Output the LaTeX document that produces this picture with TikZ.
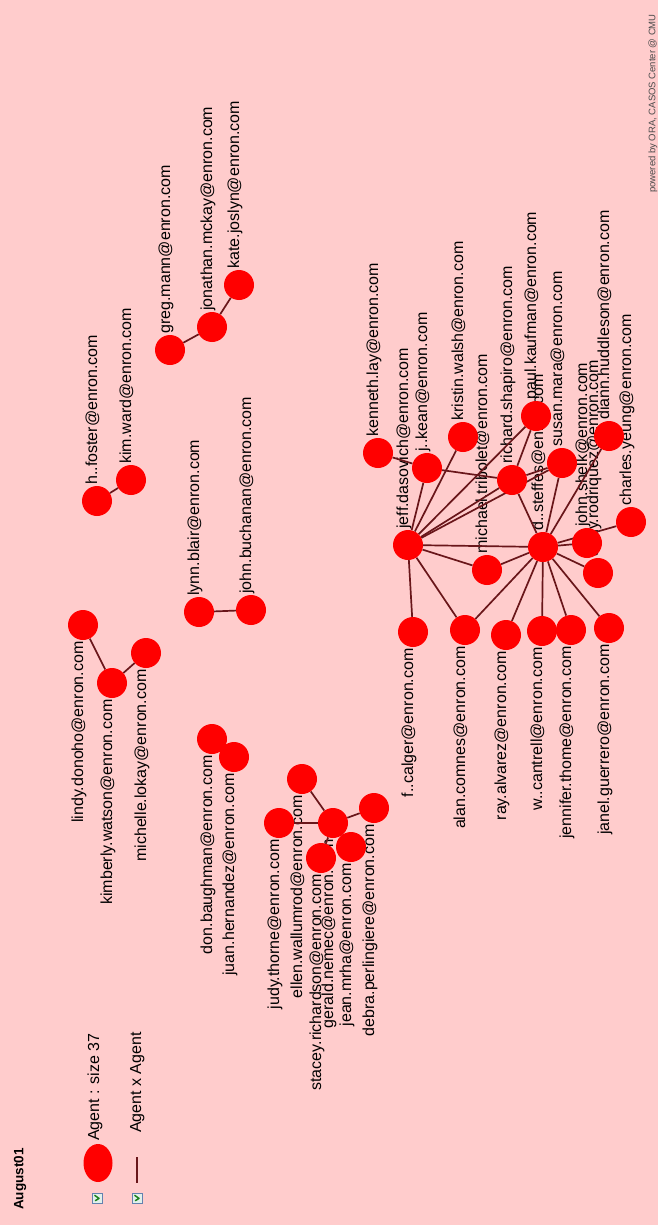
\documentclass[tikz,border=0pt]{standalone}
\usepackage{fontspec}
\setmainfont{Liberation Sans}
\usetikzlibrary{shapes.geometric}
\definecolor{bgpink}{RGB}{255,204,204}
\definecolor{edgecol}{RGB}{105,22,26}
\definecolor{nodered}{RGB}{255,0,0}
\definecolor{cbborder}{RGB}{100,130,175}
\definecolor{cbfill}{RGB}{225,240,235}
\definecolor{cbcheck}{RGB}{30,130,30}
\pgfdeclarelayer{bg}\pgfdeclarelayer{lab}\pgfdeclarelayer{edge}
\pgfsetlayers{bg,lab,edge,main}
\tikzset{
 agent/.style={circle, fill=nodered, draw=none, minimum size=30pt, inner sep=0pt},
 lab/.style={rotate=90, inner sep=0pt, font=\fontsize{16}{18}\selectfont, text height=11.5pt, text depth=3.4pt, text=black},
 labA/.style={lab, anchor=west},
 labB/.style={lab, anchor=east},
 link/.style={draw=edgecol, line width=1.7pt},
 cbox/.style={draw=cbborder, fill=cbfill, minimum size=10pt, inner sep=0pt, line width=0.9pt},
 cmark/.style={draw=cbcheck, line width=1.5pt, line cap=round, line join=round},
}
\newcommand\labup[2]{\node[labA] (#1-l) at ([xshift=-4pt,yshift=1pt]#1.north) {#2};}
\newcommand\labdn[2]{\node[labB] (#1-l) at ([xshift=-4pt,yshift=-1pt]#1.south) {#2};}
\begin{document}
\begin{tikzpicture}[x=1pt,y=-1pt]
\useasboundingbox (0,0) rectangle (658,1225);
\begin{pgfonlayer}{bg}
\fill[bgpink] (0,0) rectangle (658,1225);
\end{pgfonlayer}
% ---- central cluster
\node[agent] (kenneth) at (378,453) {};
\node[agent] (jeff) at (408,545) {};
\node[agent] (jkean) at (427,468) {};
\node[agent] (kristin) at (463,437) {};
\node[agent] (michael) at (487,570) {};
\node[agent] (richard) at (512,480) {};
\node[agent] (steffes) at (543,547) {};
\node[agent] (paul) at (536,416) {};
\node[agent] (susan) at (562,463) {};
\node[agent] (shelk) at (587,543) {};
\node[agent] (andy) at (598,573) {};
\node[agent] (diann) at (609,436) {};
\node[agent] (charles) at (631,522) {};
\node[agent] (calger) at (413,632) {};
\node[agent] (comnes) at (465,630) {};
\node[agent] (alvarez) at (506,635) {};
\node[agent] (cantrell) at (542,631) {};
\node[agent] (thome) at (571,630) {};
\node[agent] (guerrero) at (609,628) {};
% ---- small clusters
\node[agent] (hfoster) at (97,501) {};
\node[agent] (kimward) at (131,480) {};
\node[agent] (greg) at (170,350) {};
\node[agent] (jonathan) at (212,327) {};
\node[agent] (kate) at (239,285) {};
\node[agent] (lynn) at (199,612) {};
\node[agent] (buchanan) at (251,610) {};
\node[agent] (lindy) at (83,625) {};
\node[agent] (kimberly) at (112,683) {};
\node[agent] (michelle) at (146,653) {};
\node[agent] (don) at (212,739) {};
\node[agent] (juan) at (234,757) {};
\node[agent] (judy) at (279,823) {};
\node[agent] (ellen) at (302,779) {};
\node[agent] (gerald) at (333,823) {};
\node[agent] (stacey) at (321,858) {};
\node[agent] (jean) at (351,847) {};
\node[agent] (debra) at (374,808) {};
% ---- labels
\begin{pgfonlayer}{lab}
\labup{kenneth}{kenneth.lay@enron.com}
\labup{jeff}{jeff.dasovich@enron.com}
\labup{jkean}{j..kean@enron.com}
\labup{kristin}{kristin.walsh@enron.com}
\labup{michael}{michael.tribolet@enron.com}
\labup{richard}{richard.shapiro@enron.com}
\labup{steffes}{d..steffes@enron.com}
\labup{paul}{paul.kaufman@enron.com}
\labup{susan}{susan.mara@enron.com}
\labup{shelk}{john.shelk@enron.com}
\labup{andy}{andy.rodriquez@enron.com}
\labup{diann}{diann.huddleson@enron.com}
\labup{charles}{charles.yeung@enron.com}
\labdn{calger}{f..calger@enron.com}
\labdn{comnes}{alan.comnes@enron.com}
\labdn{alvarez}{ray.alvarez@enron.com}
\labdn{cantrell}{w..cantrell@enron.com}
\labdn{thome}{jennifer.thome@enron.com}
\labdn{guerrero}{janel.guerrero@enron.com}
\labup{hfoster}{h..foster@enron.com}
\labup{kimward}{kim.ward@enron.com}
\labup{greg}{greg.mann@enron.com}
\labup{jonathan}{jonathan.mckay@enron.com}
\labup{kate}{kate.joslyn@enron.com}
\labup{lynn}{lynn.blair@enron.com}
\labup{buchanan}{john.buchanan@enron.com}
\labdn{lindy}{lindy.donoho@enron.com}
\labdn{kimberly}{kimberly.watson@enron.com}
\labdn{michelle}{michelle.lokay@enron.com}
\labdn{don}{don.baughman@enron.com}
\labdn{juan}{juan.hernandez@enron.com}
\labdn{judy}{judy.thorne@enron.com}
\labdn{ellen}{ellen.wallumrod@enron.com}
\labdn{gerald}{gerald.nemec@enron.com}
\labdn{stacey}{stacey.richardson@enron.com}
\labdn{jean}{jean.mrha@enron.com}
\labdn{debra}{debra.perlingiere@enron.com}
\end{pgfonlayer}
% ---- edges
\begin{pgfonlayer}{edge}
\draw[link] (jeff) -- (jkean);
\draw[link] (jeff) -- (kristin);
\draw[link] (jeff) -- (paul);
\draw[link] (jeff) -- (richard);
\draw[link] (jeff) -- (susan);
\draw[link] (jeff) -- (steffes);
\draw[link] (jeff) -- (michael);
\draw[link] (jeff) -- (calger);
\draw[link] (jeff) -- (comnes);
\draw[link] (kenneth) -- (jkean);
\draw[link] (jkean) -- (richard);
\draw[link] (paul) -- (richard);
\draw[link] (richard) -- (susan);
\draw[link] (richard) -- (steffes);
\draw[link] (steffes) -- (susan);
\draw[link] (steffes) -- (diann);
\draw[link] (steffes) -- (michael);
\draw[link] (steffes) -- (shelk);
\draw[link] (steffes) -- (andy);
\draw[link] (steffes) -- (charles);
\draw[link] (steffes) -- (comnes);
\draw[link] (steffes) -- (alvarez);
\draw[link] (steffes) -- (cantrell);
\draw[link] (steffes) -- (thome);
\draw[link] (steffes) -- (guerrero);
\draw[link] (hfoster) -- (kimward);
\draw[link] (greg) -- (jonathan);
\draw[link] (jonathan) -- (kate);
\draw[link] (lynn) -- (buchanan);
\draw[link] (lindy) -- (kimberly);
\draw[link] (kimberly) -- (michelle);
\draw[link] (don) -- (juan);
\draw[link] (gerald) -- (ellen);
\draw[link] (gerald) -- (judy);
\draw[link] (gerald) -- (debra);
\draw[link] (gerald) -- (stacey);
\draw[link] (gerald) -- (jean);
\end{pgfonlayer}
% ---- title, legend, credit
\node[rotate=90, anchor=west, inner sep=0pt, font=\bfseries\fontsize{13.5}{15}\selectfont] (title) at (20,1210) {August01};
\node[cbox] (cb1) at (97,1198) {};
\draw[cmark] ([xshift=-2.2pt,yshift=2.6pt]cb1.center) -- ([xshift=2pt,yshift=-0.4pt]cb1.center) -- ([xshift=-1.6pt,yshift=-2.6pt]cb1.center);
\node[ellipse, fill=nodered, draw=none, minimum width=29pt, minimum height=38pt, inner sep=0pt] (legagent) at (98,1163) {};
\node[lab, anchor=west] (leg1) at (95,1141) {Agent : size 37};
\node[cbox] (cb2) at (137,1198) {};
\draw[cmark] ([xshift=-2.2pt,yshift=2.6pt]cb2.center) -- ([xshift=2pt,yshift=-0.4pt]cb2.center) -- ([xshift=-1.6pt,yshift=-2.6pt]cb2.center);
\coordinate (ll1) at (137,1157);
\coordinate (ll2) at (137,1183);
\draw[link, line width=1.3pt] (ll1) -- (ll2);
\node[lab, anchor=west] (leg2) at (137,1133) {Agent x Agent};
\node[rotate=90, anchor=west, inner sep=0pt, font=\fontsize{9.5}{11}\selectfont, text=black!70] (pow) at (653,193) {powered by ORA, CASOS Center @ CMU};
\end{tikzpicture}
\end{document}
